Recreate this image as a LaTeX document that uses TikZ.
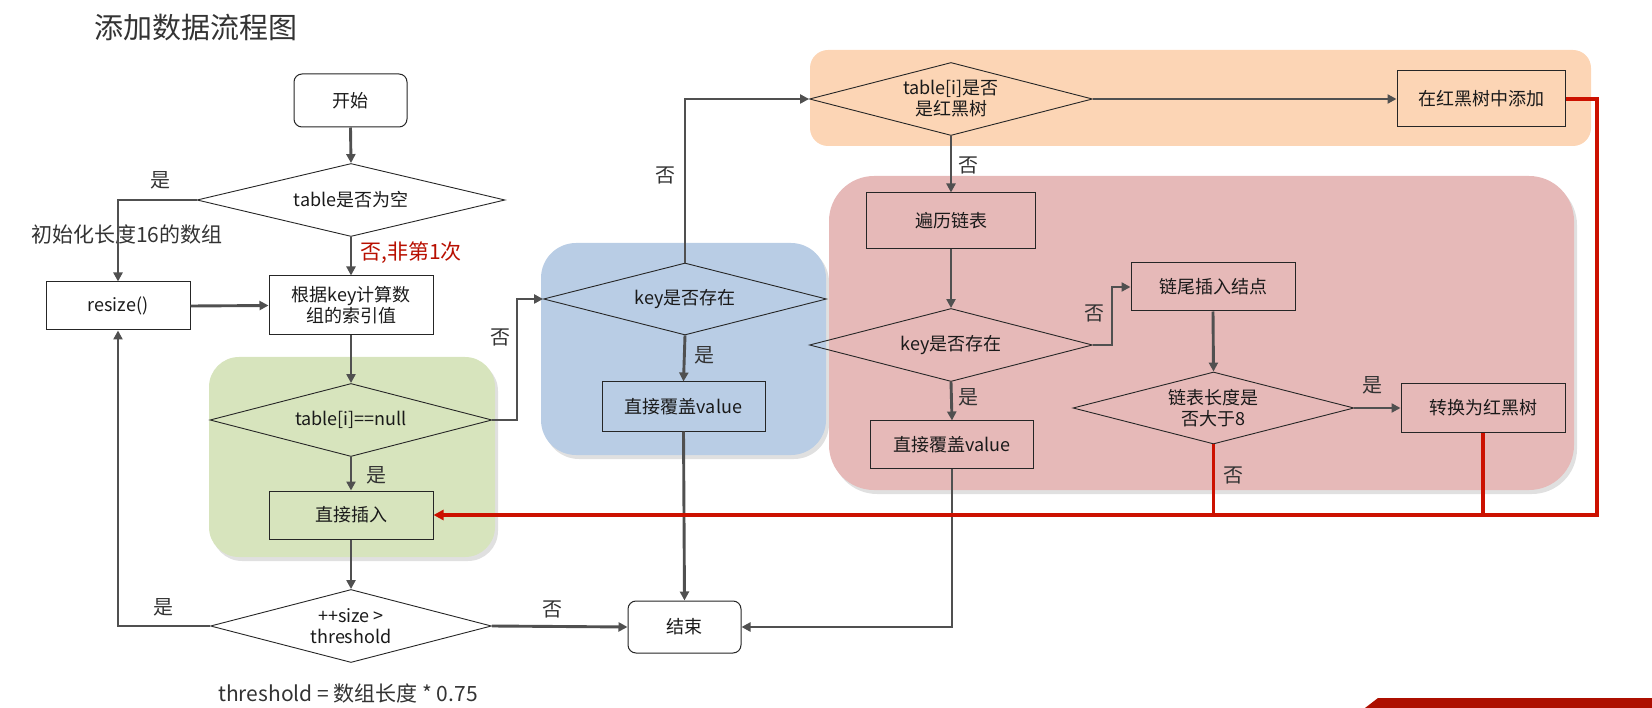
\documentclass[tikz,border=0pt]{standalone}
\usepackage{fontspec}
\setmainfont{Noto Sans CJK SC}
\usetikzlibrary{shapes.geometric,arrows.meta}
\definecolor{conn}{HTML}{505050}
\definecolor{redl}{HTML}{CC1100}
\definecolor{greenbg}{HTML}{D7E4BD}
\definecolor{bluebg}{HTML}{B9CDE5}
\definecolor{orangebg}{HTML}{FCD5B5}
\definecolor{pinkbg}{HTML}{E6B9B8}
\definecolor{txt}{HTML}{1A1A1A}
\begin{document}
\begin{tikzpicture}[x=1pt,y=-1pt,
  every node/.style={font=\fontsize{18}{21}\selectfont, inner sep=0pt, text=txt},
  box/.style={draw=black!85, line width=1pt, align=center},
  term/.style={box, fill=white, rounded corners=8pt},
  dia/.style={draw=black!85, line width=0.9pt, diamond, aspect=3.9, align=center},
  lab/.style={font=\fontsize{20}{22}\selectfont, text=black!80},
  bg/.style={rounded corners=#1},
  shadowbg/.style={fill=black, opacity=0.12, rounded corners=#1},
  arr/.style={draw=conn, line width=2.9pt, -{Triangle[length=9pt,width=9pt]}},
  ln/.style={draw=conn, line width=2.9pt},
  rarr/.style={draw=redl, line width=3.1pt, -{Triangle[length=10pt,width=10pt]}},
  rln/.style={draw=redl, line width=3.1pt}]
\useasboundingbox (0,0) rectangle (1652,708);

% backgrounds
\fill[shadowbg=30pt] (212,361) rectangle (498,561);
\fill[greenbg, bg=30pt] (209,357) rectangle (495,557);
\fill[shadowbg=35pt] (544,247) rectangle (829,459);
\fill[bluebg, bg=35pt] (541,243) rectangle (826,455);
\fill[orangebg, bg=18pt] (810,50) rectangle (1591,146);
\fill[shadowbg=45pt] (832,180) rectangle (1577,494);
\fill[pinkbg, bg=45pt] (829,176) rectangle (1574,490);

% title and notes
\node[font=\fontsize{29}{31}\selectfont, text=black!80] (title) at (196,28) {添加数据流程图};
\node[lab, font=\fontsize{21}{23}\selectfont] (init) at (127,235) {初始化长度16的数组};
\node[lab, font=\fontsize{21}{23}\selectfont] (thr) at (348,693) {threshold = 数组长度 * 0.75};

% nodes
\node[term, minimum width=113pt, minimum height=53pt] (start) at (350.5,100.5) {开始};
\node[dia, minimum width=308pt, minimum height=73pt] (d1) at (351,200) {table是否为空};
\node[box, minimum width=144pt, minimum height=48pt] (resize) at (118,306) {resize()};
\node[box, minimum width=164pt, minimum height=59pt] (calc) at (351,305.5) {根据key计算数\\组的索引值};
\node[dia, minimum width=282pt, minimum height=73pt] (d2) at (351,420) {table[i]==null};
\node[box, minimum width=164pt, minimum height=48pt] (insert) at (351,515) {直接插入};
\node[dia, minimum width=281pt, minimum height=73pt, fill=white] (d3) at (351,626) {++size >\\threshold};
\node[term, minimum width=113pt, minimum height=52pt] (end) at (684.5,627) {结束};
\node[dia, minimum width=283pt, minimum height=72pt] (d4) at (685,299) {key是否存在};
\node[box, minimum width=163pt, minimum height=49pt] (cover1) at (683.5,406.5) {直接覆盖value};
\node[dia, minimum width=283pt, minimum height=73pt] (d5) at (951,99) {table[i]是否\\是红黑树};
\node[box, minimum width=168pt, minimum height=56pt] (rbadd) at (1481,99) {在红黑树中添加};
\node[box, minimum width=169pt, minimum height=56pt] (trav) at (951,221) {遍历链表};
\node[dia, minimum width=283pt, minimum height=73pt] (d6) at (951,345) {key是否存在};
\node[box, minimum width=164pt, minimum height=48pt] (tail) at (1213,287) {链尾插入结点};
\node[box, minimum width=163pt, minimum height=47pt] (cover2) at (952,444.5) {直接覆盖value};
\node[dia, minimum width=281pt, minimum height=72pt] (d7) at (1213.5,408) {链表长度是\\否大于8};
\node[box, minimum width=164pt, minimum height=49pt] (conv) at (1483,408) {转换为红黑树};

% helper coordinates
\coordinate (c1) at (118,200);
\coordinate (c2) at (118,626);
\coordinate (c3) at (517,420);
\coordinate (c4) at (517,299);
\coordinate (c5) at (685,99);
\coordinate (c6) at (1112,345);
\coordinate (c7) at (1112,287);
\coordinate (c8) at (952,627);
\coordinate (redR) at (1597,515);

% connectors
\draw[arr] (start.south) -- (d1.north);
\draw[arr] (d1.west) -- (c1) -- (resize.north);
\draw[arr] (d1.south) -- (calc.north);
\draw[arr] (resize.east) -- (calc.west);
\draw[arr] (calc.south) -- (d2.north);
\draw[arr] (d2.south) -- (insert.north);
\draw[arr] (insert.south) -- (d3.north);
\draw[arr] (d3.west) -- (c2) -- (resize.south);
\draw[arr] (d3.east) -- (end.west);
\draw[arr] (d2.east) -- (c3) -- (c4) -- (d4.west);
\draw[arr] (d4.north) -- (c5) -- (d5.west);
\draw[arr] (d4.south) -- (cover1.north);
\draw[arr] (cover1.south) -- (end.north);
\draw[arr] (d5.east) -- (rbadd.west);
\draw[arr] (d5.south) -- (trav.north);
\draw[arr] (trav.south) -- (d6.north);
\draw[arr] (d6.east) -- (c6) -- (c7) -- (tail.west);
\draw[arr] (d6.south) -- (cover2.north);
\draw[arr] (cover2.south) -- (c8) -- (end.east);
\draw[arr] (tail.south) -- (d7.north);
\draw[arr] (d7.east) -- (conv.west);

% red connectors
\draw[rarr] (rbadd.east) -| (redR) -- (insert.east);
\draw[rln] (d7.south) -- (d7.south |- redR);
\draw[rln] (conv.south) -- (conv.south |- redR);

% labels
\node[lab] (l1) at (160,180) {是};
\node[lab, text=redl!90!black, font=\fontsize{21}{23}\selectfont] (l2) at (411,253) {否,非第1次};
\node[lab] (l3) at (376,475) {是};
\node[lab] (l4) at (163,607) {是};
\node[lab] (l5) at (552,609) {否};
\node[lab] (l6) at (500,337) {否};
\node[lab] (l7) at (665,175) {否};
\node[lab] (l8) at (704,355) {是};
\node[lab] (l9) at (968,165) {否};
\node[lab] (l10) at (1094,313) {否};
\node[lab] (l11) at (968,397) {是};
\node[lab] (l12) at (1372,385) {是};
\node[lab] (l13) at (1233,475) {否};

% bottom-right banner
\fill[redl!85!black] (1365,708) -- (1378,698) -- (1652,698) -- (1652,708) -- cycle;
\end{tikzpicture}
\end{document}
